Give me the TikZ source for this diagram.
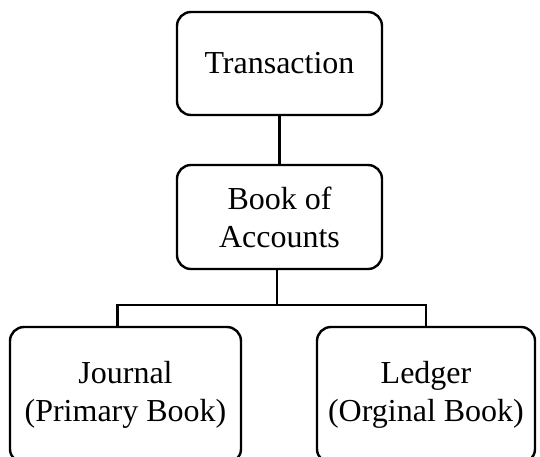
\documentclass[tikz,border=0pt]{standalone}
\usepackage{fontspec}
\setmainfont{Liberation Serif}
\usetikzlibrary{positioning}

\begin{document}
\begin{tikzpicture}[x=1pt, y=-1pt,
    box/.style={draw, line width=2.4pt, rounded corners=14pt, align=center,
                font=\fontsize{32}{38}\selectfont},
    link/.style={line width=2.4pt}]
    \useasboundingbox (0,0) rectangle (540,456);

    \node [box, minimum width=205pt, minimum height=103pt] (trans) at (279.5, 63.5) {Transaction};
    \node [box, minimum width=205pt, minimum height=104pt] (books) at (279.5, 217) {Book of\\Accounts};
    \node [box, minimum width=231pt, minimum height=136pt] (journal) at (125.5, 395) {Journal\\(Primary Book)};
    \node [box, minimum width=218pt, minimum height=136pt] (ledger) at (426, 395) {Ledger\\(Orginal Book)};

    \coordinate (fork) at (277, 305);

    \draw [link] (trans) -- (books);
    \draw [link] (books.south -| fork) -- (fork);
    \draw [link] ([xshift=-8pt]journal.north) |- (fork) -| (ledger.north);
\end{tikzpicture}
\end{document}
